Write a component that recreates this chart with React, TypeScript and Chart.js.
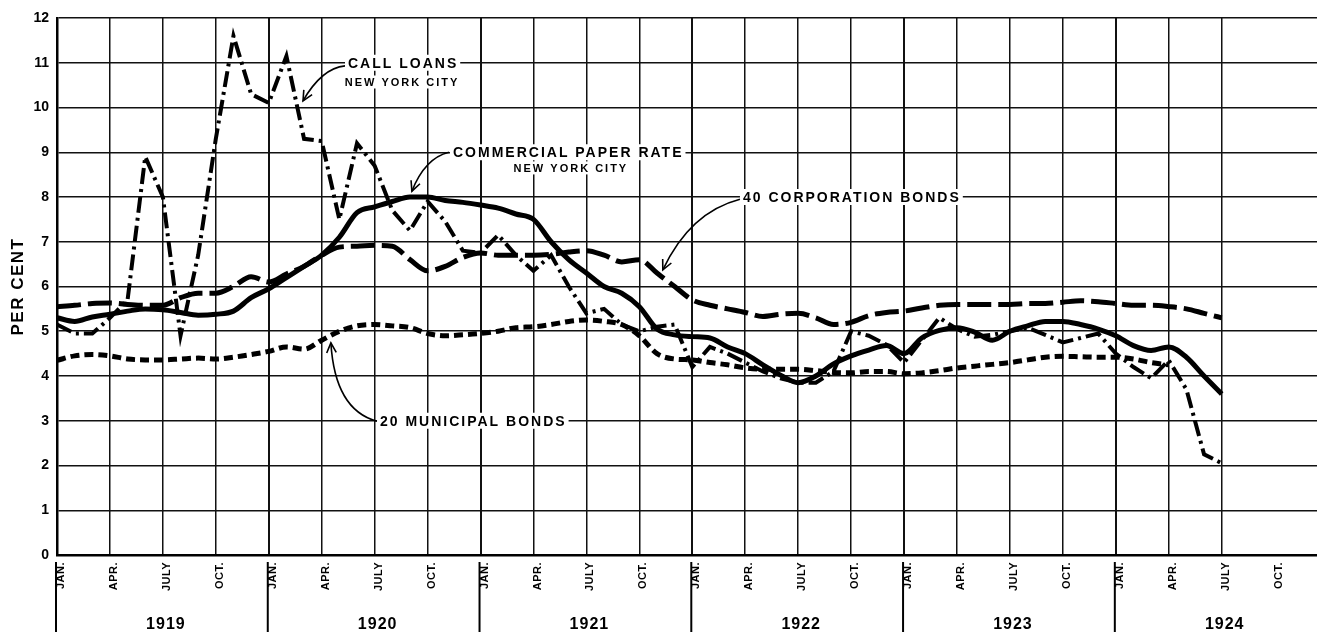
import React, { useEffect, useRef } from "react";
import { Chart, registerables } from "chart.js";

Chart.register(...registerables);

// Monthly values, January 1919 (index 0) through July 1924
const callLoans = [
  5.15, 4.95, 4.95, 5.3, 5.7, 8.9, 8.0, 4.9, 6.7, 9.3, 11.6, 10.3,
  10.1, 11.15, 9.3, 9.25, 7.5, 9.2, 8.7, 7.7, 7.25, 7.9, 7.45, 6.8,
  6.75, 7.15, 6.7, 6.35, 6.7, 6.0, 5.4, 5.5, 5.15, 5.0, 5.1, 5.15,
  4.2, 4.65, 4.5, 4.3, 4.1, 3.95, 3.85, 3.85, 4.1, 5.0, 4.9, 4.7,
  4.3, 4.8, 5.3, 5.05, 4.88, 4.92, 5.0, 5.08, 4.92, 4.75, 4.85, 4.95,
  4.5, 4.2, 3.95, 4.35, 3.7, 2.25, 2.05,
];

const commercialPaper = [
  5.3, 5.22, 5.32, 5.38, 5.45, 5.5, 5.48, 5.42, 5.36, 5.38, 5.45, 5.75,
  5.95, 6.2, 6.45, 6.7, 7.1, 7.65, 7.78, 7.9, 8.0, 8.0, 7.92, 7.88,
  7.82, 7.75, 7.62, 7.5, 7.0, 6.6, 6.3, 6.0, 5.85, 5.55, 5.05, 4.92,
  4.88, 4.85, 4.65, 4.5, 4.25, 4.02, 3.85, 4.0, 4.27, 4.45, 4.58, 4.68,
  4.5, 4.85, 5.02, 5.08, 4.98, 4.8, 5.0, 5.12, 5.22, 5.22, 5.15, 5.05,
  4.9, 4.68, 4.57, 4.65, 4.42, 4.0, 3.6,
];

const corporationBonds = [
  5.55, 5.58, 5.62, 5.63, 5.6, 5.58, 5.58, 5.75, 5.85, 5.85, 6.0, 6.22,
  6.1, 6.28, 6.45, 6.7, 6.88, 6.9, 6.92, 6.9, 6.6, 6.35, 6.45, 6.65,
  6.75, 6.7, 6.7, 6.7, 6.72, 6.77, 6.8, 6.7, 6.55, 6.6, 6.3, 6.0,
  5.7, 5.58, 5.5, 5.42, 5.33, 5.38, 5.4, 5.3, 5.15, 5.2, 5.35, 5.42,
  5.45, 5.52, 5.58, 5.6, 5.6, 5.6, 5.6, 5.62, 5.62, 5.65, 5.68, 5.66,
  5.62, 5.58, 5.58, 5.55, 5.5, 5.4, 5.3,
];

const municipalBonds = [
  4.35, 4.45, 4.48, 4.45, 4.38, 4.36, 4.36, 4.38, 4.4, 4.38, 4.42, 4.48,
  4.55, 4.65, 4.6, 4.8, 5.0, 5.12, 5.15, 5.12, 5.08, 4.95, 4.9, 4.92,
  4.95, 5.0, 5.08, 5.1, 5.15, 5.22, 5.25, 5.22, 5.15, 4.9, 4.5, 4.38,
  4.36, 4.3, 4.25, 4.18, 4.15, 4.15, 4.15, 4.12, 4.08, 4.07, 4.1, 4.1,
  4.05, 4.07, 4.12, 4.18, 4.22, 4.26, 4.3, 4.36, 4.42, 4.44, 4.43, 4.42,
  4.42, 4.38, 4.3, 4.25,
];

const quarterLabels = ["JAN.", "APR.", "JULY", "OCT."];
const yearLabels = ["1919", "1920", "1921", "1922", "1923", "1924"];
const yTickValues = [0, 1, 2, 3, 4, 5, 6, 7, 8, 9, 10, 11, 12];

// Annotation labels in data units (month index, per cent)
const annotations = [
  {
    lines: [
      { text: "CALL LOANS", m: 16.49, v: 11.0, size: 14, align: "left" },
      { text: "NEW YORK CITY", m: 19.55, v: 10.57, size: 11, align: "center" },
    ],
    arrow: { from: [16.32, 10.93], ctrl: [15.01, 10.88], to: [13.94, 10.15] },
  },
  {
    lines: [
      { text: "COMMERCIAL PAPER RATE", m: 22.44, v: 9.0, size: 14, align: "left" },
      { text: "NEW YORK CITY", m: 29.12, v: 8.65, size: 11, align: "center" },
    ],
    arrow: { from: [22.21, 9.0], ctrl: [20.85, 8.87], to: [20.11, 8.13] },
  },
  {
    lines: [{ text: "40 CORPORATION BONDS", m: 38.87, v: 8.0, size: 14, align: "left" }],
    arrow: { from: [38.7, 7.95], ctrl: [35.86, 7.66], to: [34.33, 6.37] },
  },
  {
    lines: [{ text: "20 MUNICIPAL BONDS", m: 18.3, v: 3.0, size: 14, align: "left" }],
    arrow: { from: [18.13, 2.99], ctrl: [15.75, 3.24], to: [15.52, 4.74] },
  },
];

const FONT = '"Liberation Sans", Arial, sans-serif';

const toPoints = (arr: number[]) => arr.map((v, i) => ({ x: i, y: v }));

const overlayPlugin = {
  id: "overlay",
  beforeDraw(chart: any) {
    const ctx = chart.ctx;
    ctx.save();
    ctx.fillStyle = "#fff";
    ctx.fillRect(0, 0, chart.width, chart.height);
    ctx.restore();
  },
  afterDraw(chart: any) {
    const ctx = chart.ctx as CanvasRenderingContext2D & { letterSpacing?: string };
    const xs = chart.scales.x;
    const ys = chart.scales.y;
    const ca = chart.chartArea;
    ctx.save();
    ctx.fillStyle = "#000";
    ctx.strokeStyle = "#000";

    // Quarter labels
    ctx.font = `bold 11px ${FONT}`;
    (ctx as any).letterSpacing = "0.5px";
    for (let m = 0; m <= xs.max; m += 3) {
      const x = xs.getPixelForValue(m);
      ctx.save();
      ctx.translate(x + 4, ca.bottom + 7);
      ctx.rotate(-Math.PI / 2);
      ctx.textAlign = "right";
      ctx.textBaseline = "middle";
      ctx.fillText(quarterLabels[(m / 3) % 4], 0, 0);
      ctx.restore();
    }

    // Year separators and labels
    ctx.lineWidth = 2;
    yearLabels.forEach((yl, k) => {
      const x0 = xs.getPixelForValue(k * 12);
      ctx.beginPath();
      ctx.moveTo(x0 - 1, ca.bottom + 7);
      ctx.lineTo(x0 - 1, ca.bottom + 77);
      ctx.stroke();
      const xc = xs.getPixelForValue(k * 12 + 6);
      ctx.font = `bold 16px ${FONT}`;
      (ctx as any).letterSpacing = "1px";
      ctx.textAlign = "center";
      ctx.textBaseline = "middle";
      ctx.fillText(yl, xc + 3, ca.bottom + 70);
    });

    // PER CENT title
    ctx.save();
    ctx.translate(18, (ca.top + ca.bottom) / 2);
    ctx.rotate(-Math.PI / 2);
    ctx.font = `bold 17px ${FONT}`;
    (ctx as any).letterSpacing = "1.5px";
    ctx.textAlign = "center";
    ctx.textBaseline = "middle";
    ctx.fillText("PER CENT", 0, 0);
    ctx.restore();

    // Annotations
    annotations.forEach((a) => {
      a.lines.forEach((ln) => {
        ctx.font = `bold ${ln.size}px ${FONT}`;
        (ctx as any).letterSpacing = "2px";
        const w = ctx.measureText(ln.text).width;
        const px = xs.getPixelForValue(ln.m);
        const py = ys.getPixelForValue(ln.v);
        const left = ln.align === "left" ? px : px - w / 2;
        const h = ln.size + 2;
        ctx.fillStyle = "#fff";
        ctx.fillRect(left - 3, py - h / 2, w + 5, h);
        ctx.fillStyle = "#000";
        ctx.textAlign = "left";
        ctx.textBaseline = "middle";
        ctx.fillText(ln.text, left, py + 1);
      });
      const [fx, fy] = [xs.getPixelForValue(a.arrow.from[0]), ys.getPixelForValue(a.arrow.from[1])];
      const [cx, cy] = [xs.getPixelForValue(a.arrow.ctrl[0]), ys.getPixelForValue(a.arrow.ctrl[1])];
      const [tx, ty] = [xs.getPixelForValue(a.arrow.to[0]), ys.getPixelForValue(a.arrow.to[1])];
      ctx.lineWidth = 1.6;
      ctx.setLineDash([]);
      ctx.beginPath();
      ctx.moveTo(fx, fy);
      ctx.quadraticCurveTo(cx, cy, tx, ty);
      ctx.stroke();
      const ang = Math.atan2(ty - cy, tx - cx);
      const len = 11;
      ctx.beginPath();
      ctx.moveTo(tx - len * Math.cos(ang - 0.45), ty - len * Math.sin(ang - 0.45));
      ctx.lineTo(tx, ty);
      ctx.lineTo(tx - len * Math.cos(ang + 0.45), ty - len * Math.sin(ang + 0.45));
      ctx.stroke();
    });
    (ctx as any).letterSpacing = "0px";
    ctx.restore();
  },
};

export default function App() {
  const ref = useRef<HTMLCanvasElement | null>(null);

  useEffect(() => {
    if (!ref.current) return;
    const chart = new Chart(ref.current, {
      type: "line",
      data: {
        datasets: [
          {
            label: "20 Municipal Bonds",
            data: toPoints(municipalBonds),
            borderColor: "#000",
            borderWidth: 5,
            borderDash: [9, 5],
            pointRadius: 0,
            cubicInterpolationMode: "monotone",
            fill: false,
          },
          {
            label: "40 Corporation Bonds",
            data: toPoints(corporationBonds),
            borderColor: "#000",
            borderWidth: 5,
            borderDash: [24, 7],
            pointRadius: 0,
            cubicInterpolationMode: "monotone",
            fill: false,
          },
          {
            label: "Call Loans New York City",
            data: toPoints(callLoans),
            borderColor: "#000",
            borderWidth: 4,
            borderDash: [16, 5, 3, 5],
            pointRadius: 0,
            tension: 0,
            fill: false,
          },
          {
            label: "Commercial Paper Rate New York City",
            data: toPoints(commercialPaper),
            borderColor: "#000",
            borderWidth: 5,
            pointRadius: 0,
            cubicInterpolationMode: "monotone",
            fill: false,
          },
          {
            label: "cp-highlight",
            data: toPoints(commercialPaper),
            borderColor: "rgba(255,255,255,0.85)",
            borderWidth: 1,
            borderDash: [1, 3],
            pointRadius: 0,
            cubicInterpolationMode: "monotone",
            fill: false,
          },
        ],
      },
      options: {
        animation: false,
        responsive: false,
        devicePixelRatio: 1,
        layout: { padding: { top: 18, right: 0, left: 0, bottom: 0 } },
        plugins: {
          legend: { display: false },
          tooltip: { enabled: false },
        },
        scales: {
          x: {
            type: "linear",
            min: 0,
            max: 71.4,
            afterFit: (s: any) => {
              s.height = 86;
            },
            afterBuildTicks: (s: any) => {
              s.ticks = s.ticks.filter((t: any) => t.value % 3 === 0);
            },
            ticks: { stepSize: 3, display: false },
            grid: {
              color: "#111",
              lineWidth: (c: any) => (c.tick && c.tick.value % 12 === 0 ? 2 : 1.5),
              drawTicks: false,
            },
            border: { display: true, color: "#000", width: 2.5 },
          },
          y: {
            min: 0,
            max: 12,
            afterFit: (s: any) => {
              s.width = 57;
            },
            afterBuildTicks: (s: any) => {
              s.ticks = yTickValues.map((v) => ({ value: v }));
            },
            ticks: {
              color: "#000",
              padding: 8,
              font: { family: FONT, size: 14, weight: "bold" },
            },
            grid: { color: "#111", lineWidth: 1.5, drawTicks: false },
            border: { display: true, color: "#000", width: 2.5 },
          },
        },
      },
      plugins: [overlayPlugin],
    });
    return () => chart.destroy();
  }, []);

  return (
    <div style={{ position: "fixed", left: 0, top: 0, width: 1317, height: 641, background: "#fff" }}>
      <canvas ref={ref} width={1317} height={641} style={{ display: "block" }} />
    </div>
  );
}
